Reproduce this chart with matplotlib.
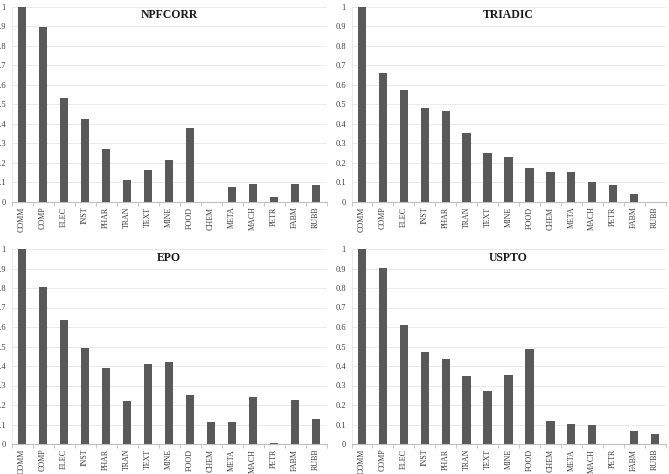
import numpy as np
import matplotlib
matplotlib.use("Agg")
import matplotlib.pyplot as plt

plt.rcParams['font.family'] = ['Liberation Serif', 'DejaVu Serif']

categories = ["COMM", "COMP", "ELEC", "INST", "PHAR", "TRAN", "TEXT", "MINE",
              "FOOD", "CHEM", "META", "MACH", "PETR", "FABM", "RUBB"]

npfcorr = [1.0, 0.894, 0.530, 0.422, 0.272, 0.113, 0.162, 0.214,
           0.379, 0.0, 0.075, 0.089, 0.026, 0.092, 0.085]
triadic = [1.0, 0.662, 0.573, 0.479, 0.463, 0.350, 0.248, 0.229,
           0.171, 0.152, 0.152, 0.103, 0.084, 0.039, 0.0]
epo = [1.0, 0.803, 0.636, 0.494, 0.388, 0.219, 0.410, 0.419,
       0.250, 0.111, 0.111, 0.243, 0.003, 0.226, 0.130]
uspto = [1.0, 0.903, 0.610, 0.472, 0.436, 0.349, 0.272, 0.354,
         0.487, 0.118, 0.103, 0.097, 0.0, 0.067, 0.051]

panels = [("NPFCORR", npfcorr), ("TRIADIC", triadic), ("EPO", epo), ("USPTO", uspto)]

W, H = 669, 474
fig = plt.figure(figsize=(W / 100, H / 100), dpi=100)

# axes boxes in pixels: left, top(value 1), width, height
boxes = [(11.5, 6.7, 315, 195), (351.5, 6.7, 314, 195),
         (11.5, 249.0, 315, 195), (351.5, 249.0, 314, 195)]

bar_color = "#595959"
grid_color = "#e6e6e6"
axis_color = "#bfbfbf"

for (title, vals), (l, t, w, h) in zip(panels, boxes):
    ax = fig.add_axes([l / W, (H - t - h) / H, w / W, h / H])
    x = np.arange(len(categories))
    ax.bar(x, vals, width=0.4, color=bar_color, zorder=3)
    ax.set_xlim(-0.5, len(categories) - 0.5)
    ax.set_ylim(0, 1)
    ax.set_yticks(np.arange(0, 1.01, 0.1))
    ax.set_yticklabels(["0"] + [f"{v:.1f}" for v in np.arange(0.1, 0.95, 0.1)] + ["1"])
    ax.yaxis.grid(True, color=grid_color, lw=0.6, zorder=0)
    ax.set_xticks(x)
    ax.set_xticklabels(categories, rotation=90, fontsize=5.8)
    ax.set_xticks(np.arange(-0.5, len(categories)), minor=True)
    ax.tick_params(axis="x", which="major", length=0, pad=3.5)
    ax.tick_params(axis="x", which="minor", length=3, color=axis_color, width=0.6)
    ax.tick_params(axis="y", length=0, labelsize=6, pad=4, labelcolor="#404040")
    ax.tick_params(axis="x", labelcolor="#404040")
    for s in ["top", "right"]:
        ax.spines[s].set_visible(False)
    ax.spines["left"].set_color(grid_color)
    ax.spines["left"].set_linewidth(0.6)
    ax.spines["bottom"].set_color(axis_color)
    ax.spines["bottom"].set_linewidth(0.8)
    ax.spines["bottom"].set_zorder(4)
    ax.text(0.5, 0.955, title, transform=ax.transAxes, ha="center", va="center",
            fontsize=8.5, fontweight="bold", color="#1a1a1a", zorder=5)

fig.savefig("out.png", dpi=100)
